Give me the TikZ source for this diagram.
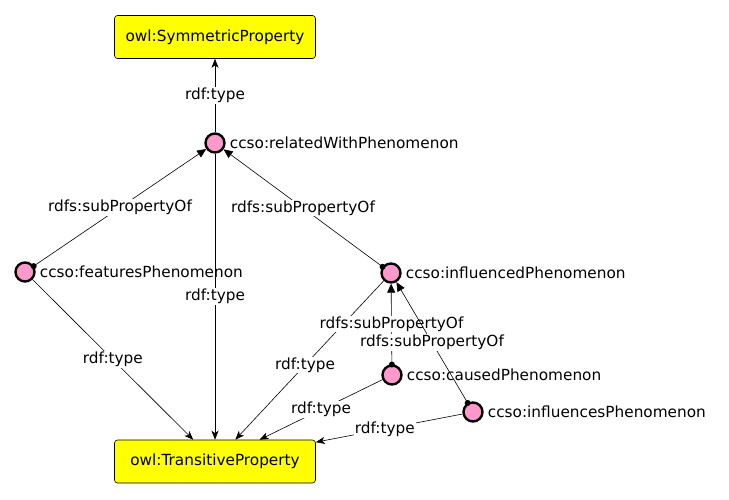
\documentclass[tikz,border=0pt]{standalone}
\usepackage{fontspec}
\setmainfont{DejaVu Sans}
\usetikzlibrary{arrows.meta,calc}
\definecolor{propfill}{RGB}{255,153,204}
\definecolor{classfill}{RGB}{255,255,0}
\begin{document}
\begin{tikzpicture}[x=1pt,y=-1pt,
  every node/.style={font=\fontsize{15.3}{18}\selectfont},
  classbox/.style={draw=black, fill=classfill, rounded corners=3pt, line width=0.6pt,
    minimum width=201pt, minimum height=43pt, inner sep=0pt},
  propnode/.style={circle, draw=black, fill=propfill, line width=2.4pt,
    minimum size=19pt, inner sep=0pt},
  plabel/.style={label={[anchor=west, inner sep=0pt, label distance=4pt]east:#1}},
  elabel/.style={fill=white, inner sep=1pt, pos=0.5},
  typeedge/.style={-{Stealth[length=9pt,width=7pt,inset=2.5pt]}, line width=0.6pt},
  subedge/.style={-{Triangle[length=9pt,width=8pt]}, line width=0.6pt},
  startdot/.style={fill=black}
]
\useasboundingbox (0,0) rectangle (729,499);

\node[classbox] (sym) at (215,37) {owl:SymmetricProperty};
\node[classbox] (trans) at (215,461.5) {owl:TransitiveProperty};

\node[propnode, plabel={ccso:relatedWithPhenomenon}] (rel) at (215,143) {};
\node[propnode, plabel={ccso:featuresPhenomenon}] (feat) at (25,272) {};
\node[propnode, plabel={ccso:influencedPhenomenon}] (infd) at (391,273) {};
\node[propnode, plabel={ccso:causedPhenomenon}] (caus) at (392,375) {};
\node[propnode, plabel={ccso:influencesPhenomenon}] (infs) at (473,412) {};

\draw[typeedge] (rel) -- node[elabel] {rdf:type} (sym);
\draw[subedge] (feat) -- node[elabel] {rdfs:subPropertyOf} (rel);
\draw[subedge] (infd) -- node[elabel] {rdfs:subPropertyOf} (rel);
\draw[typeedge] (rel) -- node[elabel] {rdf:type} (trans);
\draw[typeedge] (feat) -- node[elabel] {rdf:type} (trans);
\draw[typeedge] (infd) -- node[elabel, pos=0.53] {rdf:type} (trans);
\draw[typeedge] (caus) -- node[elabel] {rdf:type} (trans);
\draw[typeedge] (infs) -- node[elabel, pos=0.53] {rdf:type} (trans);
\draw[subedge] (caus) -- node[elabel] {rdfs:subPropertyOf} (infd);
\draw[subedge] (infs) -- node[elabel] {rdfs:subPropertyOf} (infd);

\fill[startdot] ($(feat)!10.5pt!(rel)$) circle (3pt);
\fill[startdot] ($(infd)!10.5pt!(rel)$) circle (3pt);
\fill[startdot] ($(caus)!10.5pt!(infd)$) circle (3pt);
\fill[startdot] ($(infs)!10.5pt!(infd)$) circle (3pt);
\end{tikzpicture}
\end{document}
